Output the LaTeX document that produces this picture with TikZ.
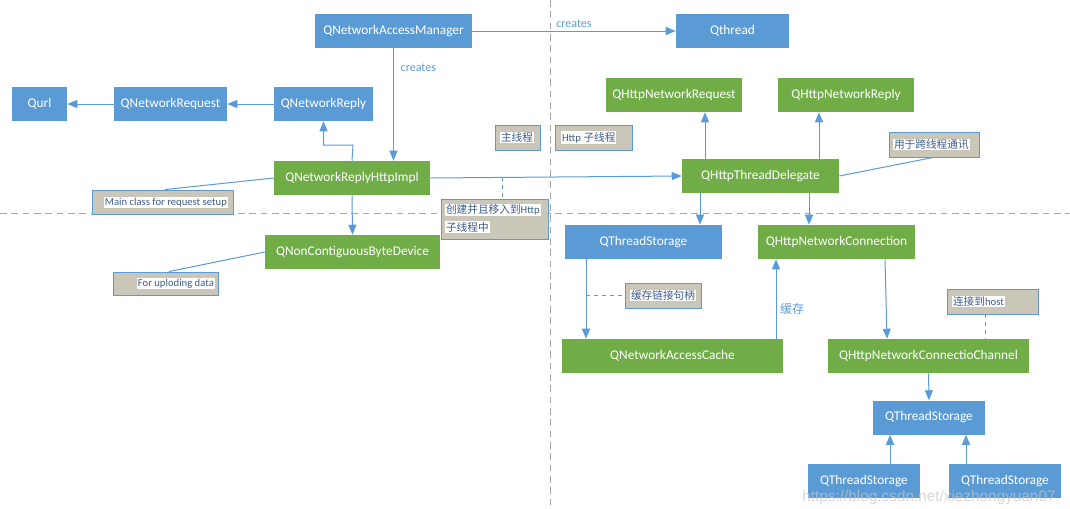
\documentclass[tikz,border=0pt]{standalone}
\usepackage{fontspec}
\setmainfont{Carlito}
\newfontfamily\cjk{Noto Sans CJK SC}
\newfontfamily\wmfont{Liberation Sans}
\usetikzlibrary{arrows.meta}
\definecolor{qblue}{RGB}{91,155,213}
\definecolor{qgreen}{RGB}{112,173,71}
\definecolor{notefill}{RGB}{203,199,184}
\definecolor{notetext}{RGB}{62,92,138}
\definecolor{guidegray}{RGB}{166,166,166}
\begin{document}
\begin{tikzpicture}[x=0.75pt,y=-0.75pt,
	qbox/.style={minimum height=25.5pt,inner sep=0pt,text=white,font=\fontsize{10}{12}\selectfont},
	bluebox/.style={qbox,fill=qblue},
	greenbox/.style={qbox,fill=qgreen},
	notebox/.style={fill=notefill,draw=qblue,line width=0.7pt,minimum height=18.75pt,inner sep=0pt},
	notelabel/.style={fill=white,inner sep=0.6pt,text=notetext,font=\fontsize{8}{9.6}\selectfont},
	link/.style={draw=qblue,line width=0.75pt,-{Triangle[width=6pt,length=7.5pt]}},
	tie/.style={draw=qblue,line width=0.75pt},
	guide/.style={draw=guidegray,line width=0.75pt,dash pattern=on 5pt off 3.5pt}]
	\useasboundingbox (0,0) rectangle (1070,508);
	% thread borders
	\draw[guide] (0,213.5) -- (1070,213.5);
	\draw[guide] (550,0) -- (550,508);
	% main thread side
	\node[bluebox,minimum width=117.75pt] (nam)     at (393.5,31)  {QNetworkAccessManager};
	\node[bluebox,minimum width=41.25pt]  (qurl)    at (39.5,104)  {Qurl};
	\node[bluebox,minimum width=84.75pt]  (nreq)    at (170.5,104) {QNetworkRequest};
	\node[bluebox,minimum width=74.25pt]  (nrep)    at (323.5,104) {QNetworkReply};
	\node[greenbox,minimum width=117pt]   (impl)    at (352,178)   {QNetworkReplyHttpImpl};
	\node[greenbox,minimum width=131.25pt] (bytedev) at (352.5,252) {QNonContiguousByteDevice};
	% http thread side
	\node[bluebox,minimum width=84.75pt]  (qthread) at (732.5,31)  {Qthread};
	\node[greenbox,minimum width=102pt]   (hreq)    at (674,95)    {QHttpNetworkRequest};
	\node[greenbox,minimum width=102pt]   (hrep)    at (846,95)    {QHttpNetworkReply};
	\node[greenbox,minimum width=117.75pt] (deleg)  at (760.5,176) {QHttpThreadDelegate};
	\node[bluebox,minimum width=117.75pt] (tsa)     at (643.5,242) {QThreadStorage};
	\node[greenbox,minimum width=117.75pt] (conn)   at (836.5,242) {QHttpNetworkConnection};
	\node[greenbox,minimum width=165.75pt] (cache)  at (672.5,356) {QNetworkAccessCache};
	\node[greenbox,minimum width=150.75pt] (chan)   at (928.5,356) {QHttpNetworkConnectioChannel};
	\node[bluebox,minimum width=84pt]     (tsb)     at (929,417.5) {QThreadStorage};
	\node[bluebox,minimum width=84pt]     (tsc)     at (864,481)   {QThreadStorage};
	\node[bluebox,minimum width=84pt]     (tsd)     at (1005,481)  {QThreadStorage};
	% notes
	\node[notebox,minimum width=105.75pt,minimum height=18pt] (notemain) at (162.5,202) {};
	\node[notelabel,anchor=east] (notemaint) at (228,202.5) {Main class for request setup};
	\node[notebox,minimum width=78.75pt,minimum height=17.25pt] (noteup) at (165.5,283.5) {};
	\node[notelabel,anchor=east] (noteupt) at (215,283.5) {For uploding data};
	\node[notebox,minimum width=33.75pt] (notemt) at (517.5,137.5) {};
	\node[notelabel,anchor=west] (notemtt) at (500,137.5) {\cjk 主线程};
	\node[notebox,minimum width=57.75pt] (noteht) at (593.5,137.5) {};
	\node[notelabel,anchor=west] (notehtt) at (561,137.5) {Http {\cjk 子线程}};
	\node[notebox,minimum width=80.25pt,minimum height=30pt] (notecr) at (494.5,219) {};
	\node[notelabel,anchor=west] (notecra) at (445,210) {{\cjk 创建并且移入到}Http};
	\node[notelabel,anchor=west] (notecrb) at (445,227) {\cjk 子线程中};
	\node[notebox,minimum width=67.5pt] (notecx) at (934,144.5) {};
	\node[notelabel,anchor=west] (notecxt) at (893,144.5) {\cjk 用于跨线程通讯};
	\node[notebox,minimum width=57pt] (notehd) at (663,295.5) {};
	\node[notelabel,anchor=west] (notehdt) at (630,295.5) {\cjk 缓存链接句柄};
	\node[notebox,minimum width=68.25pt] (notehs) at (992.5,301.5) {};
	\node[notelabel,anchor=west] (notehst) at (952,301.5) {{\cjk 连接到}host};
	% connectors
	\draw[link] (nam.east) -- (qthread.west) node[midway,above=-1pt,text=qblue,font=\fontsize{9}{10}\selectfont] (lblcreatea) {creates};
	\draw[link] (nam.south) -- (nam.south |- impl.north);
	\node[anchor=west,text=qblue,font=\fontsize{9}{10}\selectfont] (lblcreateb) at (396,68) {creates};
	\draw[link] (nrep.west) -- (nreq.east);
	\draw[link] (nreq.west) -- (qurl.east);
	\draw[link] (impl.north) -- (353,145) -- (323.5,145) -- (nrep.south);
	\draw[link] (impl.south) -- (bytedev.north);
	\draw[link] (impl.east) -- (deleg.west);
	\draw[link] (705,0 |- deleg.north) -- (705,0 |- hreq.south);
	\draw[link] (819,0 |- deleg.north) -- (819,0 |- hrep.south);
	\draw[link] (700,0 |- deleg.south) -- (700,0 |- tsa.north);
	\draw[link] (809,0 |- deleg.south) -- (809,0 |- conn.north);
	\draw[link] (586,0 |- tsa.south) -- (586,0 |- cache.north);
	\draw[link] (776,0 |- cache.north) -- (776,0 |- conn.south);
	\node[text=qblue,font=\fontsize{9}{10}\selectfont\cjk] (lblcache) at (792,309) {缓存};
	\draw[link] (885,0 |- conn.south) -- (887,0 |- chan.north);
	\draw[link] (chan.south) -- (tsb.north);
	\draw[link] (890,0 |- tsc.north) -- (890,0 |- tsb.south);
	\draw[link] (966,0 |- tsd.north) -- (966,0 |- tsb.south);
	% note ties
	\draw[tie] (impl.west) -- (165,0 |- notemain.north);
	\draw[tie] (bytedev.west) -- (169,0 |- noteup.north);
	\draw[tie] (deleg.east) -- (933,0 |- notecx.south);
	\coordinate (tapcr) at (502,177.4);
	\draw[tie,dashed] (tapcr) -- (502,0 |- notecr.north);
	\coordinate (taphd) at (586,295.5);
	\draw[tie,dashed] (taphd) -- (notehd.west);
	\draw[tie,dashed] (985,0 |- notehs.south) -- (985,0 |- chan.north);
	% watermark
	\node[text=gray!45,text opacity=0.7,font=\wmfont\fontsize{11.5}{13}\selectfont] (wmark) at (929,497.5) {https://blog.csdn.net/xiezhongyuan07};
\end{tikzpicture}
\end{document}
